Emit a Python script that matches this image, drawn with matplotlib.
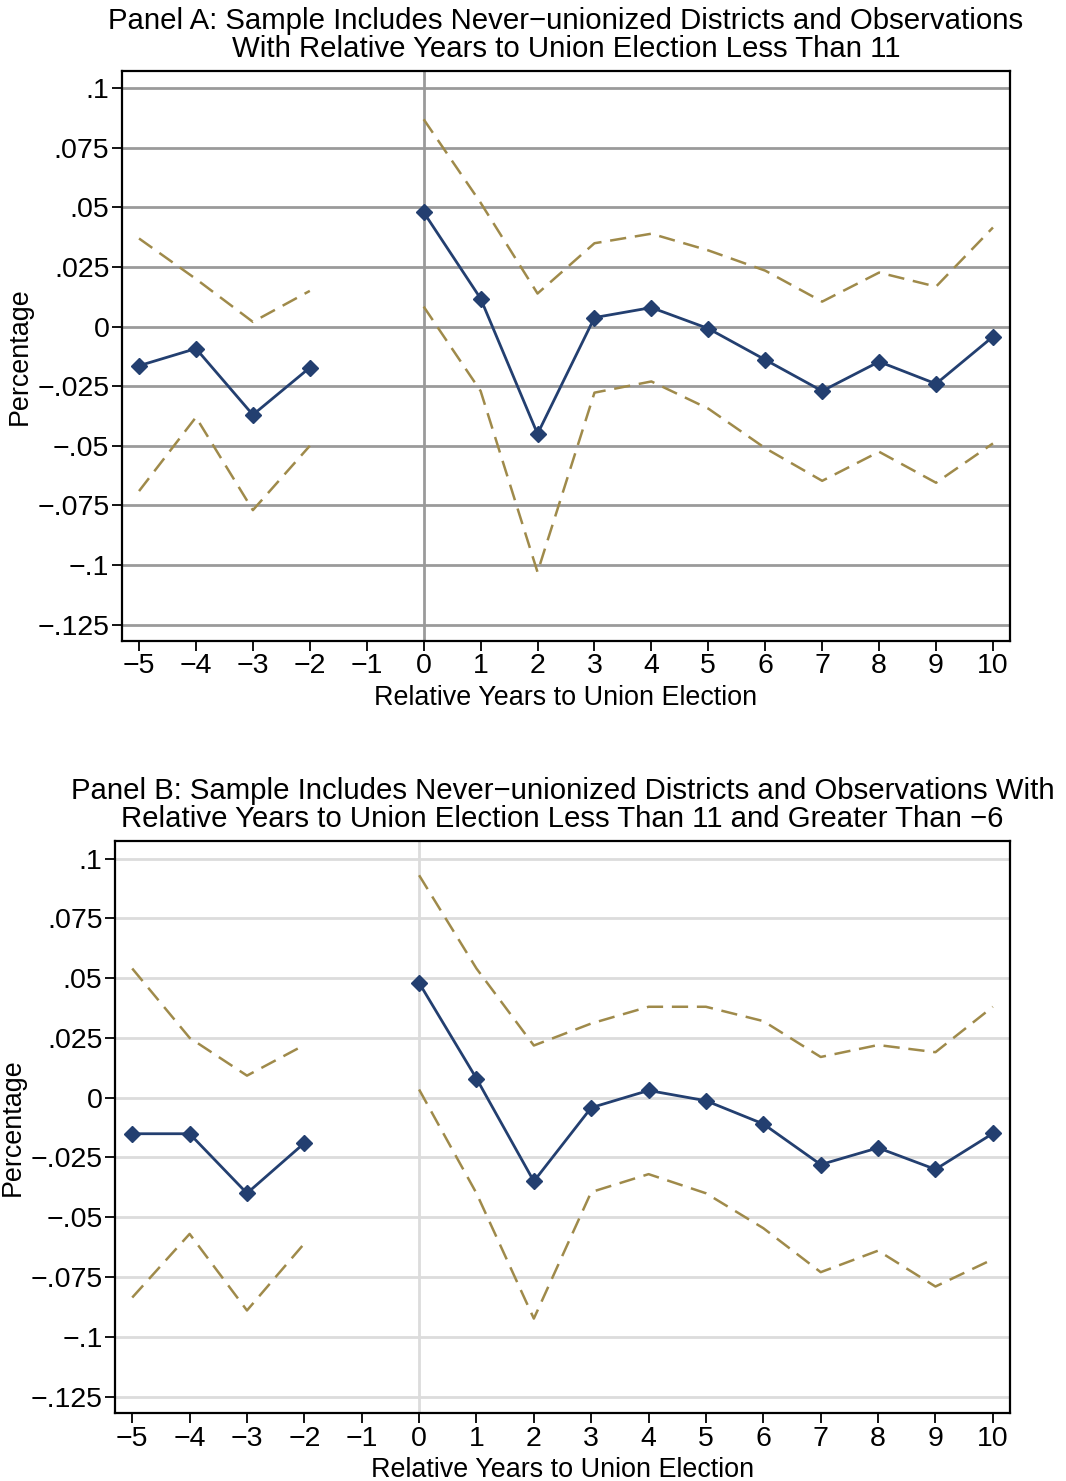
import numpy as np
import matplotlib
matplotlib.use("Agg")
import matplotlib.pyplot as plt

# relative years to union election (no estimate at -1)
years = [-5, -4, -3, -2, -1, 0, 1, 2, 3, 4, 5, 6, 7, 8, 9, 10]

# Panel A estimates and 95% CI
a_coef = [-0.0164, -0.0092, -0.0370, -0.0172, np.nan, 0.0480, 0.0118, -0.0450,
          0.0038, 0.0080, -0.0008, -0.0139, -0.0270, -0.0147, -0.0240, -0.0042]
a_hi = [0.0370, 0.0200, 0.0020, 0.0150, np.nan, 0.0870, 0.0520, 0.0139,
        0.0350, 0.0390, 0.0320, 0.0235, 0.0105, 0.0227, 0.0168, 0.0416]
a_lo = [-0.0690, -0.0380, -0.0770, -0.0500, np.nan, 0.0084, -0.0270, -0.1030,
        -0.0277, -0.0230, -0.0344, -0.0510, -0.0647, -0.0525, -0.0655, -0.0490]

# Panel B estimates and 95% CI
b_coef = [-0.0151, -0.0151, -0.0400, -0.0190, np.nan, 0.0480, 0.0080, -0.0350,
          -0.0042, 0.0030, -0.0013, -0.0110, -0.0280, -0.0210, -0.0300, -0.0150]
b_hi = [0.0540, 0.0250, 0.0092, 0.0220, np.nan, 0.0930, 0.0540, 0.0218,
        0.0310, 0.0380, 0.0380, 0.0320, 0.0170, 0.0220, 0.0190, 0.0380]
b_lo = [-0.0836, -0.0570, -0.0890, -0.0610, np.nan, 0.0034, -0.0400, -0.0924,
        -0.0395, -0.0320, -0.0400, -0.0546, -0.0730, -0.0640, -0.0790, -0.0676]

yticks = [0.1, 0.075, 0.05, 0.025, 0, -0.025, -0.05, -0.075, -0.1, -0.125]
ytick_labels = ['.1', '.075', '.05', '.025', '0', '\u2212.025', '\u2212.05',
                '\u2212.075', '\u2212.1', '\u2212.125']
xtick_labels = [str(v).replace('-', '\u2212') for v in years]

title_a = ('Panel A: Sample Includes Never\u2212unionized Districts and Observations\n'
           'With Relative Years to Union Election Less Than 11')
title_b = ('Panel B: Sample Includes Never\u2212unionized Districts and Observations With\n'
           'Relative Years to Union Election Less Than 11 and Greater Than \u22126')

navy = '#233f70'
tan = '#9f8a4a'

plt.rcParams['font.family'] = ['Liberation Sans', 'DejaVu Sans']
plt.rcParams['font.size'] = 20.5

fig = plt.figure(figsize=(10.66, 14.81), dpi=100)
ax_a = fig.add_axes([0.1144, 0.5672, 0.8331, 0.3849])
ax_b = fig.add_axes([0.1079, 0.0459, 0.8396, 0.3862])


def draw(ax, coef, hi, lo, title, gridcol):
    ax.plot(years, hi, color=tan, lw=1.8, dashes=(6.5, 3.5), zorder=3)
    ax.plot(years, lo, color=tan, lw=1.8, dashes=(6.5, 3.5), zorder=3)
    ax.plot(years, coef, color=navy, lw=2.0, marker='D', ms=8.5, zorder=4)
    ax.set_xlim(-5.3, 10.3)
    ax.set_ylim(-0.1319, 0.1073)
    ax.set_yticks(yticks)
    ax.set_yticklabels(ytick_labels)
    ax.set_xticks(years)
    ax.set_xticklabels(xtick_labels)
    ax.yaxis.grid(True, color=gridcol, lw=2)
    ax.set_axisbelow(True)
    ax.axvline(0, color=gridcol, lw=2, zorder=1)
    for s in ax.spines.values():
        s.set_linewidth(1.6)
    ax.tick_params(direction='out', length=7, width=1.3, pad=2)
    ax.set_xlabel('Relative Years to Union Election', fontsize=19.4, labelpad=4)
    ax.set_ylabel('Percentage', fontsize=19.4, labelpad=3)
    ax.set_title(title, fontsize=21.2, linespacing=1.0, pad=10)


draw(ax_a, a_coef, a_hi, a_lo, title_a, '#9a9a9a')
draw(ax_b, b_coef, b_hi, b_lo, title_b, '#dcdcdc')

fig.savefig('out.png', dpi=100)
